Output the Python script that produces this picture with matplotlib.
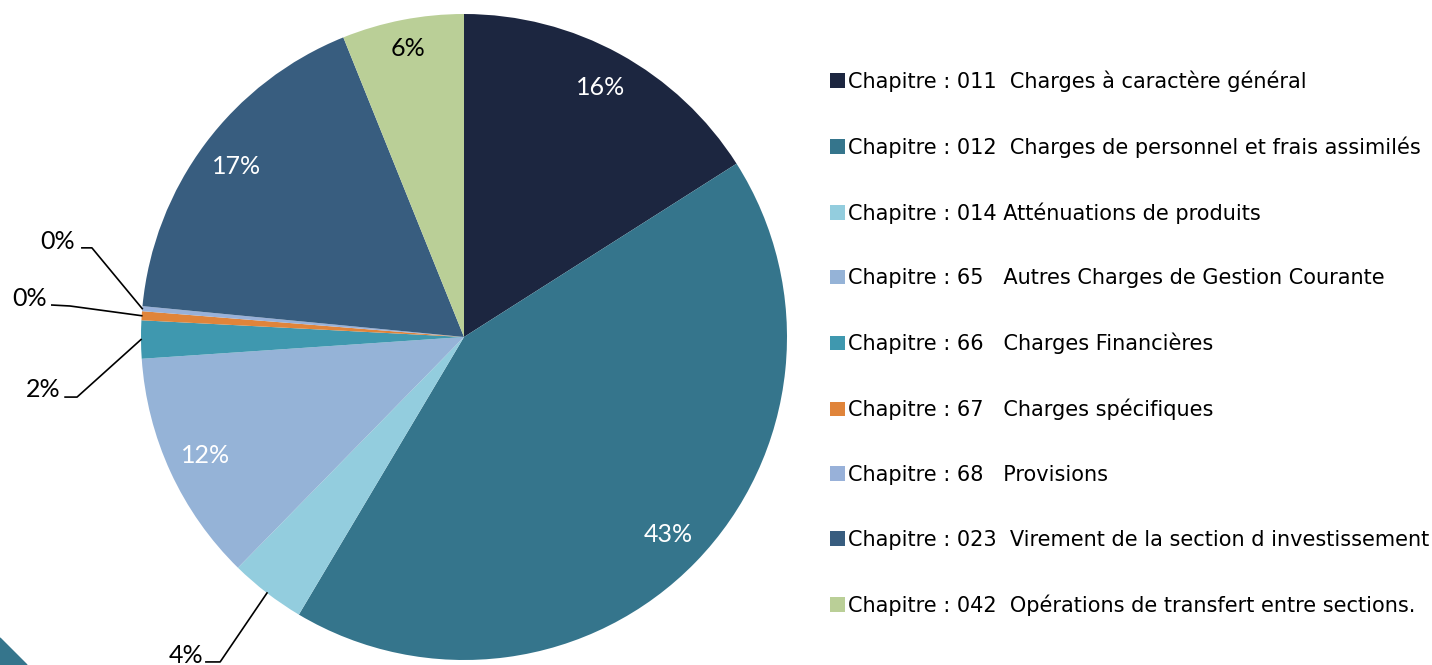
import matplotlib.pyplot as plt
import numpy as np
from matplotlib.patches import Polygon

chapitres = [
    "Chapitre : 011  Charges à caractère général",
    "Chapitre : 012  Charges de personnel et frais assimilés",
    "Chapitre : 014 Atténuations de produits",
    "Chapitre : 65   Autres Charges de Gestion Courante",
    "Chapitre : 66   Charges Financières",
    "Chapitre : 67   Charges spécifiques",
    "Chapitre : 68   Provisions",
    "Chapitre : 023  Virement de la section d investissement",
    "Chapitre : 042  Opérations de transfert entre sections.",
]
parts = [16.0, 42.6, 3.8, 11.6, 1.9, 0.45, 0.25, 17.4, 6.1]
couleurs = ["#1C2640", "#35758C", "#93CDDE", "#95B3D7", "#3F98AF",
            "#E0843A", "#98B1D9", "#385D7F", "#BACF97"]
pct_labels = ["16%", "43%", "4%", "12%", "2%", "0%", "0%", "17%", "6%"]

fig = plt.figure(figsize=(14.32, 6.65), dpi=100)
ax = fig.add_axes([141 / 1432, 5 / 665, 646 / 1432, 646 / 665])

wedges, texts = ax.pie(parts, colors=couleurs, startangle=90, counterclock=False,
                       radius=1.0, wedgeprops=dict(linewidth=0))
ax.set_xlim(-1, 1)
ax.set_ylim(-1, 1)
ax.set_aspect("equal")
ax.axis("off")

# labels inside the big slices
inside = {0: "white", 1: "white", 3: "white", 7: "white", 8: "black"}
for i, col in inside.items():
    w = wedges[i]
    mid = np.deg2rad((w.theta1 + w.theta2) / 2)
    r = 0.91 if i == 8 else 0.88
    ax.text(r * np.cos(mid), r * np.sin(mid), pct_labels[i], color=col,
            ha="center", va="center", fontsize=18, family="Lato")

# small slices: outside labels with leader lines (text pos, stub start, stub end)
outside = {
    6: ((-1.257, 0.297), (-1.183, 0.276), (-1.152, 0.276)),
    5: ((-1.344, 0.118), (-1.276, 0.099), (-1.220, 0.096)),
    4: ((-1.303, -0.161), (-1.235, -0.186), (-1.198, -0.186)),
    2: ((-0.861, -0.985), (-0.799, -1.006), (-0.755, -1.006)),
}
for i, (tpos, s0, s1) in outside.items():
    w = wedges[i]
    mid = np.deg2rad((w.theta1 + w.theta2) / 2)
    ex, ey = np.cos(mid), np.sin(mid)
    ax.plot([s0[0], s1[0], ex], [s0[1], s1[1], ey], color="black", lw=1.2,
            clip_on=False)
    ax.text(tpos[0], tpos[1], pct_labels[i], ha="center", va="center",
            fontsize=18, family="Lato", clip_on=False)

leg = fig.legend(wedges, chapitres, loc="upper left",
                 bbox_to_anchor=(830 / 1432, 1 - 70 / 665), frameon=False,
                 borderpad=0, borderaxespad=0,
                 handlelength=0.7, handleheight=0.7, handletextpad=0.15,
                 labelspacing=2.14, prop=dict(family="DejaVu Sans", size=15))

# corner decoration
fig.patches.append(Polygon([[0, 0], [0, 27 / 665], [27 / 1432, 0]], closed=True,
                           transform=fig.transFigure, color="#35758C"))

fig.savefig("out.png", dpi=100)
